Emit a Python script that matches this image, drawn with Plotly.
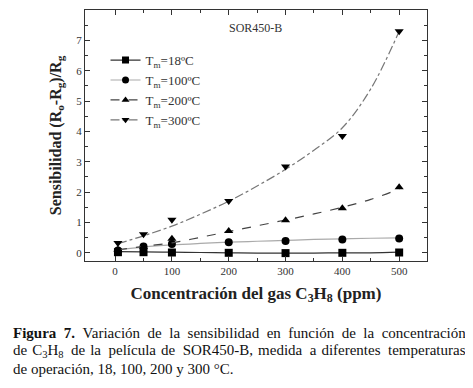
import plotly.graph_objects as go

conc = [5, 50, 100, 200, 300, 400, 500]
s18 = [0.02, 0.02, 0.01, 0.0, -0.01, 0.0, 0.01]
s100 = [0.08, 0.21, 0.29, 0.35, 0.39, 0.44, 0.47]
s200 = [0.10, 0.20, 0.46, 0.72, 1.07, 1.47, 2.16]
s300 = [0.32, 0.61, 1.09, 1.71, 2.84, 3.85, 7.30]

fit_x = [5, 50, 100, 150, 200, 250, 300, 350, 400, 450, 500]
fit18 = [0.04, 0.03, 0.02, 0.01, 0.0, -0.01, -0.01, -0.01, 0.0, 0.0, 0.02]
fit100 = [0.10, 0.19, 0.26, 0.31, 0.35, 0.38, 0.41, 0.44, 0.46, 0.48, 0.49]
fit200 = [0.10, 0.21, 0.33, 0.51, 0.70, 0.89, 1.08, 1.28, 1.50, 1.76, 2.10]
fit300 = [0.30, 0.56, 0.88, 1.27, 1.70, 2.20, 2.75, 3.38, 4.12, 5.40, 7.30]

labels = ["T<sub>m</sub>=18ºC", "T<sub>m</sub>=100ºC", "T<sub>m</sub>=200ºC", "T<sub>m</sub>=300ºC"]

series = [
    (s18, fit18, "square", "#333333", "solid", 1.2),
    (s100, fit100, "circle", "#aaaaaa", "solid", 1.2),
    (s200, fit200, "triangle-up", "#444444", "dash", 1.2),
    (s300, fit300, "triangle-down", "#777777", "dashdot", 1.2),
]

FONT = "Times New Roman"

# page has an 8px body margin, so figure coords = reference coords - 8
W, H = 465, 380
L, T, R, B = 77, 2, 46, 127

fig = go.Figure()
for (vals, fit, sym, col, dash, w), lab in zip(series, labels):
    fig.add_trace(go.Scatter(x=fit_x, y=fit, mode="lines", line=dict(color=col, dash=dash, width=w, shape="spline"),
                             showlegend=False, hoverinfo="skip"))
    fig.add_trace(go.Scatter(x=conc, y=vals, mode="markers",
                             marker=dict(symbol=sym, size=8, color="black"), showlegend=False))
    fig.add_trace(go.Scatter(x=[None], y=[None], mode="lines+markers", name=lab,
                             line=dict(color=col, dash=dash, width=w),
                             marker=dict(symbol=sym, size=7, color="black")))

axis_common = dict(
    showline=True, linecolor="#333", linewidth=1.2, mirror="ticks", ticks="inside",
    ticklen=5, tickcolor="#333", showgrid=False, zeroline=False, automargin=False,
    tickfont=dict(family=FONT, size=11, color="#333"),
)

fig.update_layout(
    width=W, height=H,
    margin=dict(l=L, r=R, t=T, b=B),
    paper_bgcolor="white", plot_bgcolor="white",
    font=dict(family=FONT, color="#222"),
    xaxis=dict(range=[-53, 549], tickvals=[0, 100, 200, 300, 400, 500],
               minor=dict(tickvals=[50, 150, 250, 350, 450], ticks="inside", ticklen=3, tickcolor="#333"),
               title=dict(text="<b>Concentración del gas C<sub>3</sub>H<sub>8</sub> (ppm)</b>",
                          font=dict(family=FONT, size=17, color="#222"), standoff=10),
               **axis_common),
    yaxis=dict(range=[-0.27, 8], tickvals=list(range(0, 9)),
               minor=dict(tickvals=[i + 0.5 for i in range(-1, 8)], ticks="inside", ticklen=3, tickcolor="#333"),
               title=dict(text="<b>Sensibilidad (R<sub>o</sub>-R<sub>g</sub>)/R<sub>g</sub></b>",
                          font=dict(family=FONT, size=16, color="#222"), standoff=10),
               **axis_common),
    legend=dict(x=0.06, y=0.86, xanchor="left", yanchor="top", bgcolor="rgba(0,0,0,0)",
                font=dict(family=FONT, size=13, color="#333"), tracegroupgap=0, itemwidth=30),
    showlegend=True,
)

pw, ph = W - L - R, H - T - B

def px2paper(px, py):
    return (px - 8 - L) / pw, (H - B - (py - 8)) / ph

sx, sy = px2paper(227, 28)
fig.add_annotation(x=sx, y=sy, xref="paper", yref="paper", text="SOR450-B", showarrow=False,
                   xanchor="left", yanchor="middle", font=dict(family=FONT, size=12, color="#333"))

EN = "&#8194;"
SP3 = "&#8196;"
line1 = ["<b>Figura", "7.</b>", "Variación", "de", "la", "sensibilidad", "en", "función", "de", "la", "concentración"]
line2 = ["de", "C<sub>3</sub>H<sub>8</sub>", "de", "la", "película", "de", "SOR450-B,", "medida", "a", "diferentes", "temperaturas"]
l2 = line2[0]
for k in range(1, len(line2)):
    l2 += (EN if k % 2 == 0 else SP3) + line2[k]
caption = [EN.join(line1), l2, "de operación, 18, 100, 200 y 300 °C."]
for i, line in enumerate(caption):
    cx, cy = px2paper(11, 333 + 18 * i)
    fig.add_annotation(x=cx, y=cy, xref="paper", yref="paper", text=line, showarrow=False,
                       xanchor="left", yanchor="middle", font=dict(family=FONT, size=15, color="#111"))

fig.write_html("out.html")
